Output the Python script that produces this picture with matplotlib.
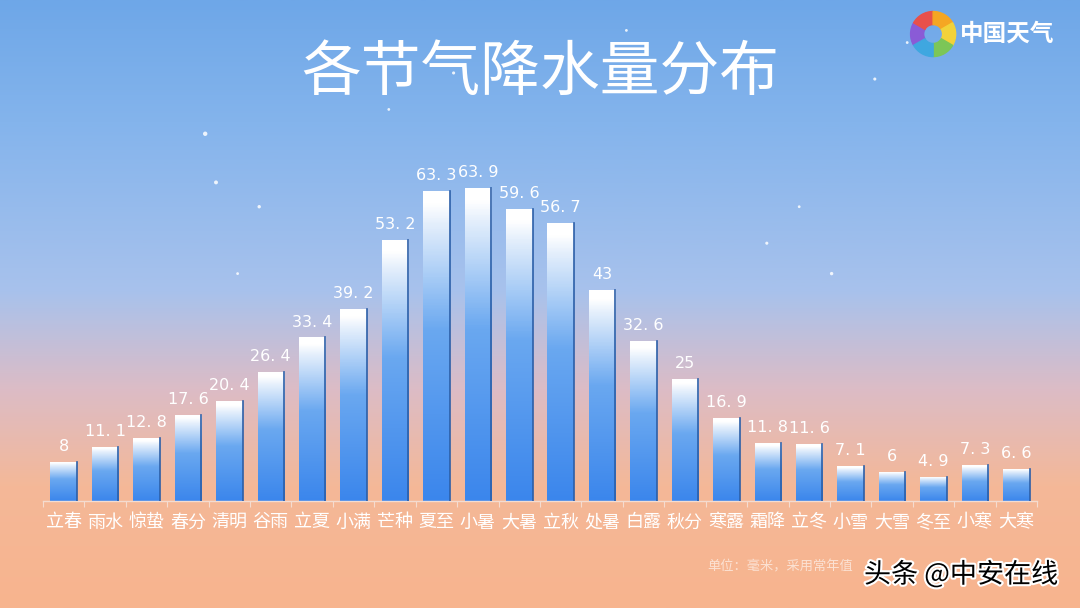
import numpy as np
import matplotlib
matplotlib.use('Agg')
import matplotlib.pyplot as plt
import matplotlib.patheffects as pe
from matplotlib.colors import LinearSegmentedColormap
from matplotlib.patches import Wedge

plt.rcParams['font.family'] = ['Noto Sans CJK SC', 'DejaVu Sans']

# 节气与降水量（毫米）
terms = ['立春', '雨水', '惊蛰', '春分', '清明', '谷雨', '立夏', '小满', '芒种', '夏至', '小暑', '大暑',
         '立秋', '处暑', '白露', '秋分', '寒露', '霜降', '立冬', '小雪', '大雪', '冬至', '小寒', '大寒']
rain = [8, 11.1, 12.8, 17.6, 20.4, 26.4, 33.4, 39.2, 53.2, 63.3, 63.9, 59.6,
        56.7, 43, 32.6, 25, 16.9, 11.8, 11.6, 7.1, 6, 4.9, 7.3, 6.6]
title = '各节气降水量分布'
unit_note = '单位：毫米，采用常年值'

fig = plt.figure(figsize=(10.8, 6.08), dpi=100)

# 背景渐变
bg = fig.add_axes([0, 0, 1, 1])
bg_cmap = LinearSegmentedColormap.from_list('bg', [
    (0.0, '#f8b48e'), (0.2, '#f4b898'), (0.36, '#dcbcc6'),
    (0.52, '#a8c2ec'), (0.8, '#84b4ec'), (1.0, '#6ea7e8')])
bg.imshow(np.linspace(0, 1, 256).reshape(-1, 1), aspect='auto', cmap=bg_cmap,
          origin='lower', extent=[0, 1, 0, 1])
bg.set_xlim(0, 1)
bg.set_ylim(0, 1)
bg.axis('off')

# 星点
stars_x = [0.19, 0.24, 0.42, 0.48, 0.20, 0.36, 0.70, 0.77, 0.84, 0.81, 0.58, 0.22, 0.71, 0.74, 0.53]
stars_y = [0.78, 0.66, 0.88, 0.52, 0.70, 0.82, 0.90, 0.55, 0.93, 0.87, 0.95, 0.55, 0.60, 0.66, 0.62]
stars_s = [10, 6, 5, 6, 8, 4, 5, 6, 4, 5, 4, 4, 5, 4, 5]
bg.scatter(stars_x, stars_y, s=stars_s, color='white', alpha=0.85, lw=0)

# 标题
fig.text(0.5, 0.88, title, color='white', fontsize=43, ha='center', va='center',
         fontweight='light')

# 图标 + 中国天气
logo = fig.add_axes([0.842, 0.905, 0.044, 0.078])
logo.set_xlim(-1, 1)
logo.set_ylim(-1, 1)
logo.set_aspect('equal')
logo.axis('off')
logo_cols = ['#8a5bd6', '#e8504a', '#f5a623', '#f2d23a', '#7cc657', '#3fa7e0']
for i, c in enumerate(logo_cols):
    logo.add_patch(Wedge((0, 0), 0.95, 150 - i * 60, 210 - i * 60, width=0.55, color=c))
fig.text(0.889, 0.944, '中国天气', color='white', fontsize=17, ha='left', va='center',
         fontweight='bold')

# 柱状图
ax = fig.add_axes([0.0398, 0.176, 0.9204, 0.577])
ax.patch.set_alpha(0)
x = np.arange(len(terms))
bars = ax.bar(x, rain, width=0.64, color='none', edgecolor='none')
bar_cmap = LinearSegmentedColormap.from_list('bar', [
    (0.0, '#3b86ec'), (0.55, '#6aa8f0'), (0.9, '#e6f0fc'), (0.96, '#ffffff'), (1.0, '#ffffff')])
grad = np.linspace(0, 1, 200).reshape(-1, 1)
for b, v in zip(bars, rain):
    im = ax.imshow(grad, aspect='auto', cmap=bar_cmap, origin='lower',
                   extent=[b.get_x(), b.get_x() + b.get_width(), 0, v], zorder=2)
    im.set_clip_path(b)
    ax.plot([b.get_x() + b.get_width()] * 2, [0, v], color='#2c5fa8', lw=1.2, zorder=3)
    ax.text(b.get_x() + b.get_width() / 2, v + 1.6, f'{v:g}'.replace('.', '. '),
            color='white', fontsize=11.5, ha='center', va='bottom',
            family=['DejaVu Sans'], zorder=4)

ax.set_xlim(-0.5, len(terms) - 0.5)
ax.set_ylim(0, 71.6)
for s in ['top', 'right', 'left']:
    ax.spines[s].set_visible(False)
ax.spines['bottom'].set_color('#f4dcd0')
ax.spines['bottom'].set_linewidth(1)
ax.set_yticks([])
ax.set_xticks(np.arange(-0.5, len(terms) - 0.4, 1))
ax.set_xticklabels([])
ax.set_xticks(x, minor=True)
ax.set_xticklabels(terms, minor=True, color='white', fontsize=13)
ax.tick_params(axis='x', which='major', length=4, color='#f4dcd0')
ax.tick_params(axis='x', which='minor', length=0, pad=9)

# 单位说明与水印
fig.text(0.655, 0.068, unit_note, color='white', alpha=0.6, fontsize=9.5, ha='left', va='center')
fig.text(0.8, 0.055, '头条 @中安在线', color='black', fontsize=19.5, ha='left', va='center',
         path_effects=[pe.withStroke(linewidth=3, foreground='white')])

fig.savefig('out.png', dpi=100)
